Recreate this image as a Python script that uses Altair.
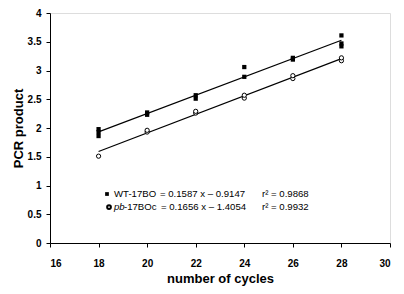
import altair as alt
import pandas as pd

# data
wt_x = [18, 18, 18, 20, 20, 22, 22, 24, 24, 26, 26, 28, 28, 28]
wt_y = [1.86, 1.93, 1.98, 2.23, 2.27, 2.51, 2.57, 2.89, 3.06, 3.19, 3.22, 3.42, 3.47, 3.61]
pb_x = [18, 20, 20, 22, 22, 24, 24, 26, 26, 28, 28]
pb_y = [1.51, 1.93, 1.96, 2.26, 2.29, 2.52, 2.57, 2.86, 2.91, 3.17, 3.22]

x_ticks = [16, 18, 20, 22, 24, 26, 28, 30]
y_ticks = [0, 0.5, 1, 1.5, 2, 2.5, 3, 3.5, 4]

wt = pd.DataFrame({"x": wt_x, "y": wt_y})
pb = pd.DataFrame({"x": pb_x, "y": pb_y})

FONT = "Liberation Sans"

xs = alt.Scale(domain=[16, 30], nice=False)
ys = alt.Scale(domain=[0, 4], nice=False)

X = alt.X("x:Q", scale=xs, axis=alt.Axis(
    title="number of cycles", values=x_ticks, format="d", grid=False,
    domainColor="black", tickColor="black", tickSize=4, labelPadding=11,
    labelFont=FONT, labelFontWeight="bold", labelFontSize=10, labelColor="black",
    titleFont=FONT, titleFontWeight="bold", titleFontSize=13, titleColor="black",
    titlePadding=4))
Y = alt.Y("y:Q", scale=ys, axis=alt.Axis(
    title="PCR product", values=y_ticks, format="~g", grid=False,
    domainColor="black", tickColor="black", tickSize=4, labelPadding=5,
    labelFont=FONT, labelFontWeight="bold", labelFontSize=10, labelColor="black",
    titleFont=FONT, titleFontWeight="bold", titleFontSize=13, titleColor="black",
    titlePadding=2))

wt_pts = alt.Chart(wt).mark_square(size=18, color="black", opacity=1).encode(x=X, y=Y)
pb_pts = alt.Chart(pb).mark_point(shape="circle", size=18, color="black", fill="white",
                                  filled=False, strokeWidth=1, opacity=1).encode(x=X, y=Y)

wt_line = alt.Chart(wt).transform_regression("x", "y", extent=[18, 28]).mark_line(
    color="black", strokeWidth=1.2).encode(x=X, y=Y)
pb_line = alt.Chart(pb).transform_regression("x", "y", extent=[18, 28]).mark_line(
    color="black", strokeWidth=1.2).encode(x=X, y=Y)

# legend block
leg_row_y = [0.852, 0.626]
name_text = ["WT-17BO", "-17BOc"]
name_x = [18.635, 19.047]
eq_text = ["= 0.1587 x \u2013 0.9147", "= 0.1656 x \u2013 1.4054"]
eq_x = [20.53, 20.57]
r2_text = ["r\u00b2 = 0.9868", "r\u00b2 = 0.9932"]
r2_x = [24.73, 24.73]

FS = 9.6

leg_sq = alt.Chart(pd.DataFrame({"x": [18.347], "y": [leg_row_y[0]]})).mark_square(
    size=14, color="black", opacity=1).encode(x=X, y=Y)
leg_ci = alt.Chart(pd.DataFrame({"x": [18.43], "y": [leg_row_y[1]]})).mark_point(
    shape="circle", size=14, color="black", fill="white", opacity=1).encode(x=X, y=Y)

def txt(xv, yv, tv, style="normal"):
    df = pd.DataFrame({"x": xv, "y": yv, "t": tv})
    return alt.Chart(df).mark_text(align="left", baseline="middle", font=FONT, fontSize=FS,
                                   fontStyle=style, color="black").encode(x=X, y=Y, text="t:N")

names = txt(name_x, leg_row_y, name_text)
pb_it = txt([18.635], [leg_row_y[1]], ["pb"], "italic")
eq = txt(eq_x, leg_row_y, eq_text)
r2 = txt(r2_x, leg_row_y, r2_text)

chart = alt.layer(wt_line, pb_line, wt_pts, pb_pts, leg_sq, leg_ci, names, pb_it, eq, r2).properties(
    width=340, height=230,
    autosize=alt.AutoSizeParams(type="none"),
    padding={"left": 42, "top": 5, "right": 6, "bottom": 43},
).configure_view(stroke="#888888", strokeWidth=1).configure(background="white")

chart.save("out.html", embed_options={"renderer": "svg", "actions": False})
